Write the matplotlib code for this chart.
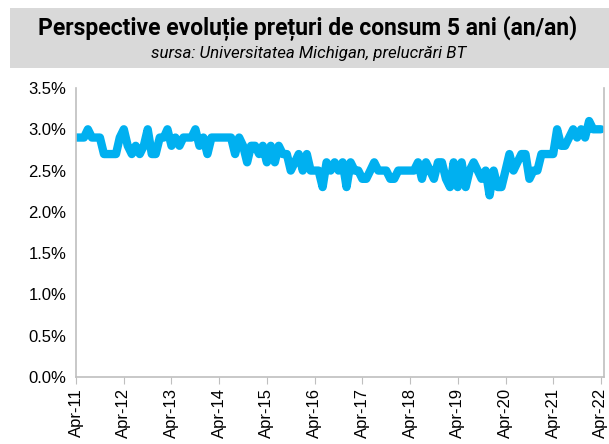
import numpy as np
import pandas as pd
import matplotlib
matplotlib.use('Agg')
import matplotlib.pyplot as plt
import matplotlib.dates as mdates
from matplotlib.patches import Rectangle
from matplotlib.ticker import FuncFormatter

# date lunare Apr-2011 .. Apr-2022
start = '2011-04-01'
end = '2022-04-01'
valori = [
    2.9, 2.9, 2.9, 3.0, 2.9, 2.9, 2.9, 2.7, 2.7,                     # 2011
    2.7, 2.7, 2.9, 3.0, 2.8, 2.7, 2.8, 2.7, 2.8, 3.0, 2.7, 2.7,      # 2012
    2.9, 2.9, 3.0, 2.8, 2.9, 2.8, 2.9, 2.9, 2.9, 3.0, 2.8, 2.9,      # 2013
    2.7, 2.9, 2.9, 2.9, 2.9, 2.9, 2.9, 2.7, 2.9, 2.8, 2.6, 2.8,      # 2014
    2.8, 2.7, 2.8, 2.6, 2.8, 2.6, 2.8, 2.7, 2.7, 2.5, 2.6, 2.7,      # 2015
    2.5, 2.7, 2.5, 2.5, 2.5, 2.3, 2.6, 2.5, 2.6, 2.5, 2.6, 2.3,      # 2016
    2.6, 2.5, 2.5, 2.4, 2.4, 2.5, 2.6, 2.5, 2.5, 2.5, 2.4, 2.4,      # 2017
    2.5, 2.5, 2.5, 2.5, 2.5, 2.6, 2.4, 2.6, 2.5, 2.4, 2.6, 2.6,      # 2018
    2.4, 2.3, 2.6, 2.3, 2.6, 2.3, 2.5, 2.6, 2.5, 2.4, 2.5, 2.2,      # 2019
    2.5, 2.3, 2.3, 2.5, 2.7, 2.5, 2.6, 2.7, 2.7, 2.4, 2.5, 2.5,      # 2020
    2.7, 2.7, 2.7, 2.7, 3.0, 2.8, 2.8, 2.9, 3.0, 2.9, 3.0, 2.9,      # 2021
    3.1, 3.0, 3.0, 3.0,                                              # 2022
]
date = pd.date_range(start, end, freq='MS')
df = pd.DataFrame({'Asteptari': valori}, index=date)

titlu = 'Perspective evoluție prețuri de consum 5 ani (an/an)'
subtitlu = 'sursa: Universitatea Michigan, prelucrări BT'

font_txt = ['Roboto', 'DejaVu Sans']
font_ax = ['Liberation Sans', 'DejaVu Sans']
plt.rcParams['font.family'] = font_ax

fig = plt.figure(figsize=(6.09, 4.44), dpi=100)
ax = fig.add_axes([0.1248, 0.1509, 0.8670, 0.6509])

# caseta titlu
fig.patches.append(Rectangle((0.0164, 0.8468), 0.99, 0.1352, transform=fig.transFigure,
                             facecolor='#d9d9d9', edgecolor='none', zorder=0))
fig.text(0.505, 0.935, titlu, ha='center', va='center', fontsize=16.5,
         fontweight='bold', family=font_txt)
fig.text(0.506, 0.879, subtitlu, ha='center', va='center', fontsize=12.2,
         style='italic', family=font_txt)

ax.plot(df.index, df['Asteptari'], color='#00b0f0', lw=6,
        solid_joinstyle='round', solid_capstyle='round')

ax.set_ylim(0, 3.5)
ax.set_yticks(np.arange(0, 3.51, 0.5))
ax.yaxis.set_major_formatter(FuncFormatter(lambda v, p: f'{v:.1f}%'))
ax.set_xlim(pd.Timestamp('2011-04-01'), pd.Timestamp('2022-04-25'))
ax.xaxis.set_major_locator(mdates.MonthLocator(bymonth=4))
ax.xaxis.set_major_formatter(mdates.DateFormatter('%b-%y'))

for s in ['left', 'bottom', 'right']:
    ax.spines[s].set_color('#bfbfbf')
    ax.spines[s].set_linewidth(1.2)
ax.spines['top'].set_visible(False)

ax.tick_params(axis='x', rotation=90, labelsize=12, length=5, color='#bfbfbf', pad=3)
ax.tick_params(axis='y', labelsize=12, length=0, pad=7)

plt.savefig('out.png', dpi=100)
